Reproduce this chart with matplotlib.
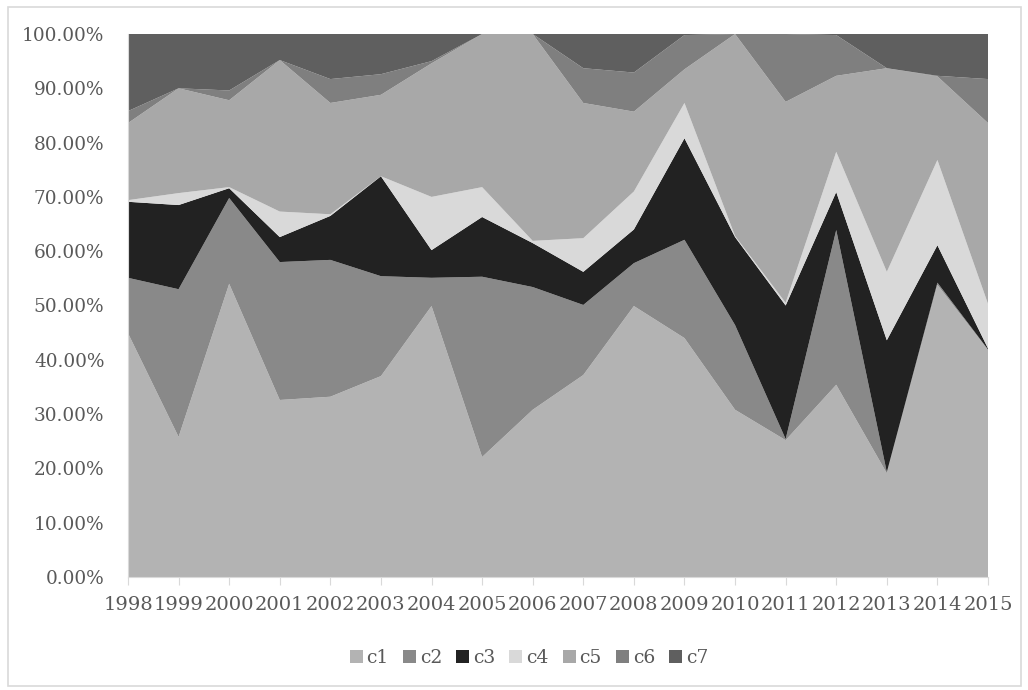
import matplotlib
matplotlib.use("Agg")
import matplotlib.pyplot as plt
import numpy as np
from matplotlib.patches import Rectangle
from matplotlib.ticker import FuncFormatter

years = list(range(1998, 2016))
c1 = [44.9, 25.8, 54.0, 32.6, 33.2, 37.0, 49.9, 22.1, 30.8, 37.2, 49.9, 44.0, 30.8, 25.2, 35.4, 19.1, 53.8, 41.8]
c2 = [10.2, 27.2, 15.8, 25.4, 25.2, 18.4, 5.2, 33.2, 22.6, 12.9, 7.9, 18.1, 15.6, 0.2, 28.5, 0.2, 0.4, 0.1]
c3 = [14.0, 15.5, 1.8, 4.6, 8.1, 18.4, 5.1, 11.0, 8.1, 6.1, 6.2, 18.7, 16.2, 24.6, 7.0, 24.3, 6.9, 0.2]
c4 = [0.3, 2.2, 0.2, 4.7, 0.3, 0.0, 9.8, 5.5, 0.4, 6.2, 7.0, 6.5, 0.2, 0.5, 7.4, 12.6, 15.7, 8.2]
c5 = [14.2, 19.3, 16.0, 27.9, 20.5, 15.0, 24.6, 28.2, 38.1, 24.9, 14.7, 6.2, 37.2, 37.0, 14.0, 37.5, 15.4, 33.3]
c6 = [2.2, 0.0, 1.8, 0.0, 4.4, 3.8, 0.4, 0.0, 0.0, 6.4, 7.2, 6.3, 0.0, 12.5, 7.5, 0.0, 0.1, 8.1]
c7 = [14.2, 10.0, 10.4, 4.8, 8.3, 7.4, 5.0, 0.0, 0.0, 6.3, 7.1, 0.2, 0.0, 0.0, 0.2, 6.3, 7.7, 8.3]
series_names = ["c1", "c2", "c3", "c4", "c5", "c6", "c7"]
colors = ["#b3b3b3", "#898989", "#222222", "#d9d9d9", "#a8a8a8", "#7f7f7f", "#5f5f5f"]

data = np.array([c1, c2, c3, c4, c5, c6, c7], dtype=float)
data = data / data.sum(axis=0) * 100.0

fig = plt.figure(figsize=(10.28, 6.9), dpi=100)
fig.patch.set_facecolor("white")
fig.patches.append(Rectangle((8 / 1028, 4 / 690), 1013 / 1028, 679 / 690,
                             transform=fig.transFigure, fill=False,
                             edgecolor="#d9d9d9", linewidth=1.2))

ax = fig.add_axes([128 / 1028, 1 - 577 / 690, 860 / 1028, 543 / 690])
x = np.arange(len(years))
ax.stackplot(x, data, colors=colors, labels=series_names, linewidth=0)

ax.set_xlim(0, len(years) - 1)
ax.set_ylim(0, 100)
ax.set_yticks(np.arange(0, 101, 10))
ax.yaxis.set_major_formatter(FuncFormatter(lambda v, p: f"{v:.2f}%"))
ax.set_xticks(x)
ax.set_xticklabels([str(y) for y in years])

font = "DejaVu Serif"
for lab in ax.get_yticklabels():
    lab.set_fontfamily(font)
    lab.set_fontsize(13.3)
    lab.set_color("#595959")
for lab in ax.get_xticklabels():
    lab.set_fontfamily(font)
    lab.set_fontsize(14)
    lab.set_color("#595959")

ax.tick_params(axis="y", length=0, pad=17)
ax.tick_params(axis="x", length=6, color="#d9d9d9", direction="out", pad=8)
for s in ["top", "right"]:
    ax.spines[s].set_visible(False)
ax.spines["left"].set_color("#d9d9d9")
ax.spines["bottom"].set_color("#d9d9d9")
ax.spines["bottom"].set_zorder(5)

leg = fig.legend(loc="center", bbox_to_anchor=(529 / 1028, 1 - 658 / 690), ncol=7,
                 frameon=False, handlelength=0.7, handleheight=0.7,
                 handletextpad=0.2, columnspacing=0.75,
                 prop={"family": font, "size": 13.5})
for t in leg.get_texts():
    t.set_color("#595959")

fig.savefig("out.png", dpi=100)
